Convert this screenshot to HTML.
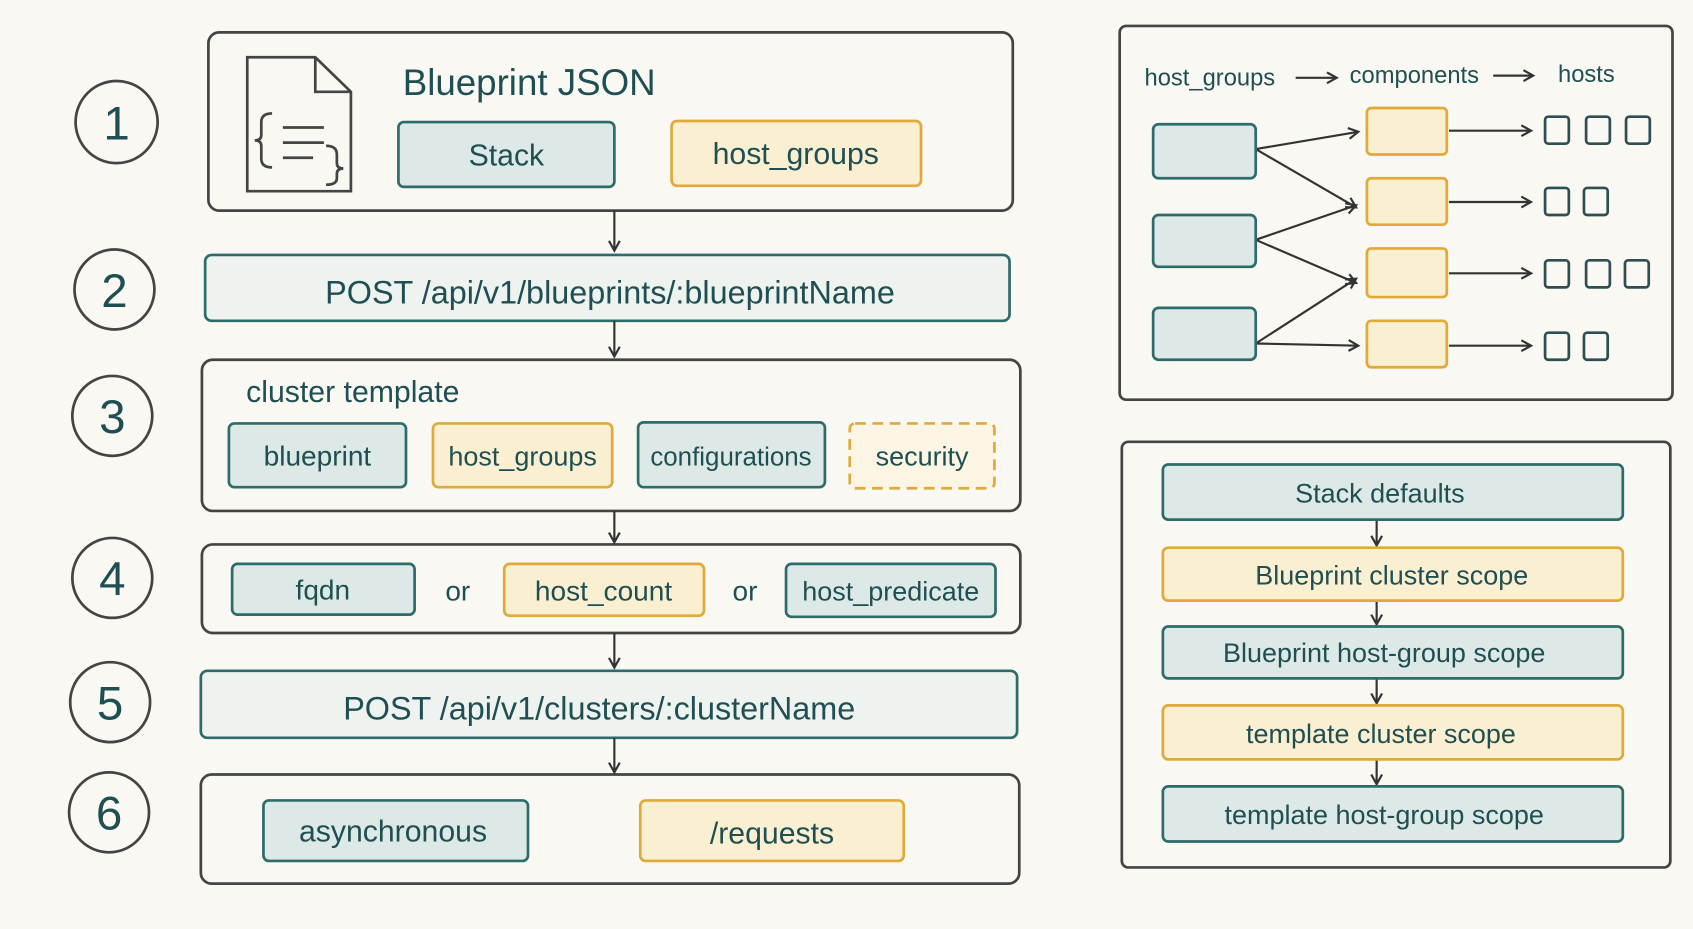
<!DOCTYPE html>
<html><head><meta charset="utf-8"><style>
html,body{margin:0;padding:0;background:#f9f8f3;}
svg{display:block;}
text{font-family:"Liberation Sans",sans-serif;fill:#1f4f52;}
</style></head><body>
<svg width="1693" height="929" viewBox="0 0 1568 860" preserveAspectRatio="none" xmlns="http://www.w3.org/2000/svg">
<defs>
<marker id="ah" markerWidth="12" markerHeight="12" refX="10" refY="6" orient="auto" markerUnits="userSpaceOnUse">
<path d="M1,1 L10,6 L1,11" fill="none" stroke="#333" stroke-width="2"/>
</marker>
</defs>
<rect width="1568" height="860" fill="#f9f8f3"/>
<g fill="none" stroke="#444" stroke-width="2.5">
<circle cx="108" cy="113" r="38"/>
<circle cx="106" cy="268" r="37"/>
<circle cx="104" cy="385" r="37"/>
<circle cx="104" cy="535" r="37"/>
<circle cx="102" cy="650" r="37"/>
<circle cx="101" cy="752" r="37"/>
</g>
<g font-size="44" text-anchor="middle">
<text x="108" y="129">1</text><text x="106" y="284">2</text><text x="104" y="401">3</text>
<text x="104" y="551">4</text><text x="102" y="666">5</text><text x="101" y="768">6</text>
</g>
<g fill="none" stroke="#444" stroke-width="2.5">
<rect x="193" y="30" width="745" height="165" rx="10"/>
<rect x="187" y="333" width="758" height="140" rx="10"/>
<rect x="187" y="504" width="758" height="82" rx="10"/>
<rect x="186" y="717" width="758" height="101" rx="10"/>
<rect x="1037" y="24" width="512" height="346" rx="6"/>
<rect x="1039" y="409" width="508" height="394" rx="6"/>
</g>
<g stroke="#2e6b6b" stroke-width="2.5">
<rect x="190" y="236" width="745" height="61" rx="6" fill="#eef3ef"/>
<rect x="186" y="621" width="756" height="62" rx="6" fill="#eef3ef"/>
</g>
<text x="565" y="281" font-size="30" text-anchor="middle">POST /api/v1/blueprints/:blueprintName</text>
<text x="555" y="666" font-size="30" text-anchor="middle">POST /api/v1/clusters/:clusterName</text>
<g fill="none" stroke="#444" stroke-width="2.5">
<path d="M229,53 L292,53 L325,85 L325,177 L229,177 Z"/><path d="M292,53 L292,85 L325,85"/>
<path d="M252,105 q-10,0 -10,8 v12 q0,5 -6,5 q6,0 6,5 v12 q0,8 10,8"/>
<path d="M302,135 q10,0 10,8 v8 q0,5 6,5 q-6,0 -6,5 v4 q0,6 -10,6"/>
<path d="M262,118 h38 M262,132 h38 M262,146 h28"/>
</g>
<text x="373" y="88" font-size="34">Blueprint JSON</text>
<g stroke-width="2.5">
<rect x="369" y="113" width="200" height="60" rx="5" fill="#dde9e6" stroke="#2e6b6b"/>
<rect x="622" y="112" width="231" height="60" rx="5" fill="#fbefd2" stroke="#e0a93a"/>
<rect x="212" y="392" width="164" height="59" rx="5" fill="#dde9e6" stroke="#2e6b6b"/>
<rect x="401" y="392" width="166" height="59" rx="5" fill="#fbefd2" stroke="#e0a93a"/>
<rect x="591" y="391" width="173" height="60" rx="5" fill="#dde9e6" stroke="#2e6b6b"/>
<rect x="787" y="392" width="134" height="60" rx="5" fill="#fcf5e4" stroke="#e0a93a" stroke-dasharray="10,6"/>
<rect x="215" y="522" width="169" height="47" rx="5" fill="#dde9e6" stroke="#2e6b6b"/>
<rect x="467" y="522" width="185" height="48" rx="5" fill="#fbefd2" stroke="#e0a93a"/>
<rect x="728" y="522" width="194" height="49" rx="5" fill="#dde9e6" stroke="#2e6b6b"/>
<rect x="244" y="741" width="245" height="56" rx="5" fill="#dde9e6" stroke="#2e6b6b"/>
<rect x="593" y="741" width="244" height="56" rx="5" fill="#fbefd2" stroke="#e0a93a"/>
</g>
<g font-size="28" text-anchor="middle">
<text x="469" y="153">Stack</text>
<text x="737" y="152">host_groups</text>
<text x="294" y="431" font-size="26">blueprint</text>
<text x="484" y="431" font-size="25">host_groups</text>
<text x="677" y="431" font-size="24">configurations</text>
<text x="854" y="431" font-size="25">security</text>
<text x="299" y="555" font-size="26">fqdn</text>
<text x="424" y="556" font-size="26">or</text>
<text x="559" y="556" font-size="26">host_count</text>
<text x="690" y="556" font-size="26">or</text>
<text x="825" y="556" font-size="25">host_predicate</text>
<text x="364" y="779">asynchronous</text>
<text x="715" y="781">/requests</text>
</g>
<text x="228" y="372" font-size="28">cluster template</text>
<g stroke="#333" stroke-width="2" marker-end="url(#ah)">
<line x1="569" y1="195" x2="569" y2="232"/>
<line x1="569" y1="297" x2="569" y2="330"/>
<line x1="569" y1="473" x2="569" y2="502"/>
<line x1="569" y1="586" x2="569" y2="618"/>
<line x1="569" y1="683" x2="569" y2="715"/>
<line x1="1275" y1="481" x2="1275" y2="505"/>
<line x1="1275" y1="556" x2="1275" y2="578"/>
<line x1="1275" y1="628" x2="1275" y2="651"/>
<line x1="1275" y1="703" x2="1275" y2="726"/>
</g>
<g font-size="22">
<text x="1060" y="79">host_groups</text>
<text x="1250" y="77">components</text>
<text x="1443" y="76">hosts</text>
</g>
<g stroke="#333" stroke-width="2" marker-end="url(#ah)">
<line x1="1200" y1="72" x2="1238" y2="72"/>
<line x1="1383" y1="70" x2="1420" y2="70"/>
<line x1="1163" y1="138" x2="1258" y2="122"/>
<line x1="1163" y1="138" x2="1256" y2="192"/>
<line x1="1163" y1="222" x2="1256" y2="190"/>
<line x1="1163" y1="222" x2="1256" y2="262"/>
<line x1="1163" y1="318" x2="1256" y2="258"/>
<line x1="1163" y1="318" x2="1258" y2="320"/>
<line x1="1342" y1="121" x2="1418" y2="121"/>
<line x1="1342" y1="187" x2="1418" y2="187"/>
<line x1="1342" y1="253" x2="1418" y2="253"/>
<line x1="1342" y1="320" x2="1418" y2="320"/>
</g>
<g stroke-width="2.5">
<g fill="#dde9e6" stroke="#2e6b6b">
<rect x="1068" y="115" width="95" height="50" rx="5"/>
<rect x="1068" y="199" width="95" height="48" rx="5"/>
<rect x="1068" y="285" width="95" height="48" rx="5"/>
</g>
<g fill="#fbefd2" stroke="#e0a93a">
<rect x="1266" y="100" width="74" height="43" rx="4"/>
<rect x="1266" y="165" width="74" height="43" rx="4"/>
<rect x="1266" y="230" width="74" height="45" rx="4"/>
<rect x="1266" y="297" width="74" height="43" rx="4"/>
</g>
<g fill="none" stroke="#2e4f52">
<rect x="1431" y="108" width="22" height="25" rx="3"/><rect x="1469" y="108" width="22" height="25" rx="3"/><rect x="1506" y="108" width="22" height="25" rx="3"/>
<rect x="1431" y="174" width="22" height="25" rx="3"/><rect x="1467" y="174" width="22" height="25" rx="3"/>
<rect x="1431" y="241" width="22" height="25" rx="3"/><rect x="1469" y="241" width="22" height="25" rx="3"/><rect x="1505" y="241" width="22" height="25" rx="3"/>
<rect x="1431" y="308" width="22" height="25" rx="3"/><rect x="1467" y="308" width="22" height="25" rx="3"/>
</g>
</g>
<g stroke-width="2.5">
<rect x="1077" y="430" width="426" height="51" rx="5" fill="#dde9e6" stroke="#2e6b6b"/>
<rect x="1077" y="507" width="426" height="49" rx="5" fill="#fbefd2" stroke="#e0a93a"/>
<rect x="1077" y="580" width="426" height="48" rx="5" fill="#dde9e6" stroke="#2e6b6b"/>
<rect x="1077" y="653" width="426" height="50" rx="5" fill="#fbefd2" stroke="#e0a93a"/>
<rect x="1077" y="728" width="426" height="51" rx="5" fill="#dde9e6" stroke="#2e6b6b"/>
</g>
<g font-size="25" text-anchor="middle">
<text x="1278" y="465">Stack defaults</text>
<text x="1289" y="541">Blueprint cluster scope</text>
<text x="1282" y="613">Blueprint host-group scope</text>
<text x="1279" y="688">template cluster scope</text>
<text x="1282" y="763">template host-group scope</text>
</g>
</svg>
</body></html>
